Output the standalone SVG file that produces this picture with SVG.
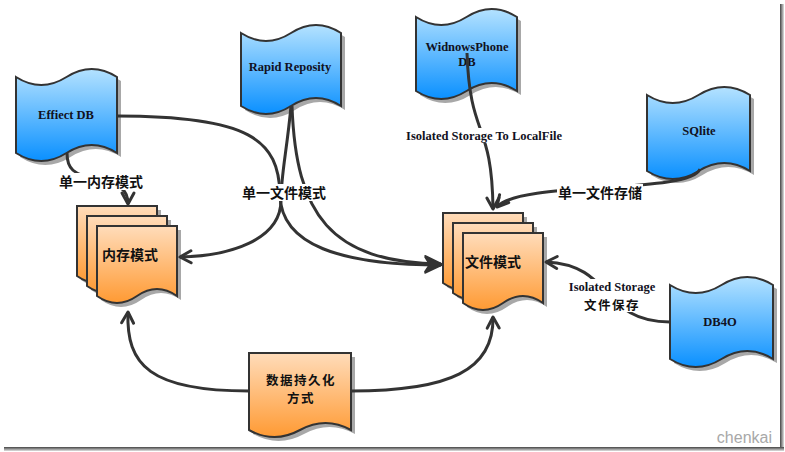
<svg xmlns="http://www.w3.org/2000/svg" width="785" height="452" viewBox="0 0 785 452">
<defs>
<linearGradient id="gb" x1="0" y1="0" x2="0" y2="1"><stop offset="0" stop-color="#b4e2ff"/><stop offset="1" stop-color="#0a90ff"/></linearGradient>
<linearGradient id="go" x1="0" y1="0" x2="0" y2="1"><stop offset="0" stop-color="#ffdcba"/><stop offset="1" stop-color="#ff9a33"/></linearGradient>
<linearGradient id="fr" x1="0" y1="0" x2="1" y2="0"><stop offset="0" stop-color="#444"/><stop offset="1" stop-color="#e0e0e0"/></linearGradient>
<linearGradient id="fb" x1="0" y1="0" x2="0" y2="1"><stop offset="0" stop-color="#444"/><stop offset="1" stop-color="#e0e0e0"/></linearGradient>
<marker id="open" markerUnits="userSpaceOnUse" viewBox="-16 -10 20 20" refX="0" refY="0" markerWidth="20" markerHeight="20" orient="auto" overflow="visible"><path d="M-11,-6 L0,0 L-11,6" fill="none" stroke="#333" stroke-width="3" stroke-linejoin="round" stroke-linecap="round"/></marker>
<marker id="solid" markerUnits="userSpaceOnUse" viewBox="-20 -10 24 20" refX="0" refY="0" markerWidth="24" markerHeight="20" orient="auto" overflow="visible"><path d="M-16,-8 L1,0 L-16,8 L-11,0 Z" fill="#333" stroke="#333" stroke-width="1.5" stroke-linejoin="round"/></marker>
<style>
.sh{fill:#a8a8a8}
.blue{fill:url(#gb);stroke:#333;stroke-width:2}
.org{fill:url(#go);stroke:#333;stroke-width:2}
.lt{font-family:"Liberation Serif","Times New Roman",serif;font-weight:bold;font-size:12.5px;fill:#111122;text-anchor:middle}
.zh{font-family:"Noto Sans CJK SC","Noto Sans",sans-serif;font-weight:bold;font-size:14px;fill:#111;text-anchor:middle}
.zs{font-family:"Noto Sans CJK SC","Noto Sans",sans-serif;font-weight:bold;font-size:12.5px;fill:#111;text-anchor:middle;letter-spacing:1.5px}
.ln{fill:none;stroke:#333;stroke-width:3}
.bg{fill:#fff}
</style>
</defs>
<rect width="785" height="452" fill="#fff"/>
<rect x="780" y="4" width="4" height="447" fill="url(#fr)"/>
<rect x="4" y="447" width="780" height="4" fill="url(#fb)"/>

<g id="effiect-db">
<path class="sh" transform="translate(4,4)" d="M16,77 Q41.25,93 66.5,77 T117,77 V153 Q91.75,137 66.5,153 T16,153 Z"/>
<path class="blue" d="M16,77 Q41.25,93 66.5,77 T117,77 V153 Q91.75,137 66.5,153 T16,153 Z"/>
<text class="lt" x="66" y="119">Effiect DB</text>
</g>
<g id="rapid-reposity">
<path class="sh" transform="translate(4,4)" d="M241,33 Q266,49 291,33 T341,33 V106 Q316,90 291,106 T241,106 Z"/>
<path class="blue" d="M241,33 Q266,49 291,33 T341,33 V106 Q316,90 291,106 T241,106 Z"/>
<text class="lt" x="290" y="71">Rapid Reposity</text>
</g>
<g id="windowsphone-db">
<path class="sh" transform="translate(4,4)" d="M416,17 Q441.25,33 466.5,17 T517,17 V91 Q491.75,75 466.5,91 T416,91 Z"/>
<path class="blue" d="M416,17 Q441.25,33 466.5,17 T517,17 V91 Q491.75,75 466.5,91 T416,91 Z"/>
<text class="lt" x="467" y="51">WidnowsPhone</text>
<text class="lt" x="467" y="66">DB</text>
</g>
<g id="sqlite">
<path class="sh" transform="translate(4,4)" d="M647,95 Q672.75,111 698.5,95 T750,95 V171 Q724.25,155 698.5,171 T647,171 Z"/>
<path class="blue" d="M647,95 Q672.75,111 698.5,95 T750,95 V171 Q724.25,155 698.5,171 T647,171 Z"/>
<text class="lt" x="699" y="135">SQlite</text>
</g>
<g id="db4o">
<path class="sh" transform="translate(4,4)" d="M670,285 Q695.75,301 721.5,285 T773,285 V359 Q747.25,343 721.5,359 T670,359 Z"/>
<path class="blue" d="M670,285 Q695.75,301 721.5,285 T773,285 V359 Q747.25,343 721.5,359 T670,359 Z"/>
<text class="lt" x="720" y="326">DB4O</text>
</g>
<g id="memory-mode">
<path class="sh" transform="translate(4,4)" d="M77,206 H157 V276 Q137,262 117,276 T77,276 Z"/>
<path class="org" d="M77,206 H157 V276 Q137,262 117,276 T77,276 Z"/>
<path class="sh" transform="translate(4,4)" d="M87,216 H167 V286 Q147,272 127,286 T87,286 Z"/>
<path class="org" d="M87,216 H167 V286 Q147,272 127,286 T87,286 Z"/>
<path class="sh" transform="translate(4,4)" d="M97,226 H177 V296 Q157,282 137,296 T97,296 Z"/>
<path class="org" d="M97,226 H177 V296 Q157,282 137,296 T97,296 Z"/>
<text class="zh" x="130" y="260">内存模式</text>
</g>
<g id="file-mode">
<path class="sh" transform="translate(4,4)" d="M443,213 H523 V283 Q503,269 483,283 T443,283 Z"/>
<path class="org" d="M443,213 H523 V283 Q503,269 483,283 T443,283 Z"/>
<path class="sh" transform="translate(4,4)" d="M453,223 H533 V293 Q513,279 493,293 T453,293 Z"/>
<path class="org" d="M453,223 H533 V293 Q513,279 493,293 T453,293 Z"/>
<path class="sh" transform="translate(4,4)" d="M463,233 H543 V303 Q523,289 503,303 T463,303 Z"/>
<path class="org" d="M463,233 H543 V303 Q523,289 503,303 T463,303 Z"/>
<text class="zh" x="493" y="267">文件模式</text>
</g>
<g id="persistence">
<path class="sh" transform="translate(4,4)" d="M249,353 H351 V430 Q325.5,416 300,430 T249,430 Z"/>
<path class="org" d="M249,353 H351 V430 Q325.5,416 300,430 T249,430 Z"/>
<text class="zs" x="301" y="385">数据持久化</text>
<text class="zs" x="301" y="403">方式</text>
</g>

<g id="connectors">
<path class="ln" marker-end="url(#open)" d="M67,153 C67,168 72,175 100,180 C120,184 128,190 128,204"/>
<path class="ln" marker-end="url(#solid)" d="M117,116 C250,116 279,140 280,195 C281,245 340,265 441,265"/>
<path class="ln" marker-end="url(#open)" d="M291,106 C287,150 281,175 281,200 C281,240 230,256 180,257"/>
<path class="ln" marker-end="url(#solid)" d="M292,106 C296,215 330,262 441,264"/>
<path class="ln" marker-end="url(#open)" d="M467,53 C470,140 492,120 493,209"/>
<path class="ln" marker-end="url(#open)" d="M700,169 C690,195 520,180 497,207"/>
<path class="ln" marker-end="url(#open)" d="M670,322 C600,322 615,265 546,262"/>
<path class="ln" marker-end="url(#open)" d="M249,391 C150,391 126,365 128,312"/>
<path class="ln" marker-end="url(#open)" d="M351,391 C450,391 494,370 493,317"/>
<rect class="bg" x="60" y="173" width="84" height="17"/>
<text class="zh" x="101" y="187">单一内存模式</text>
<rect class="bg" x="242" y="184" width="84" height="17"/>
<text class="zh" x="284" y="198">单一文件模式</text>
<rect class="bg" x="401" y="128" width="166" height="15"/>
<text class="lt" x="484" y="140">Isolated Storage To LocalFile</text>
<rect class="bg" x="557" y="184" width="86" height="17"/>
<text class="zh" x="600" y="198">单一文件存储</text>
<rect class="bg" x="564" y="279" width="96" height="33"/>
<text class="lt" x="612" y="291">Isolated Storage</text>
<text class="zs" x="612" y="310">文件保存</text>
</g>
<text x="772" y="443" font-family="Liberation Sans, Arial, sans-serif" font-size="16" fill="#a8a8a8" text-anchor="end">chenkai</text>
</svg>
